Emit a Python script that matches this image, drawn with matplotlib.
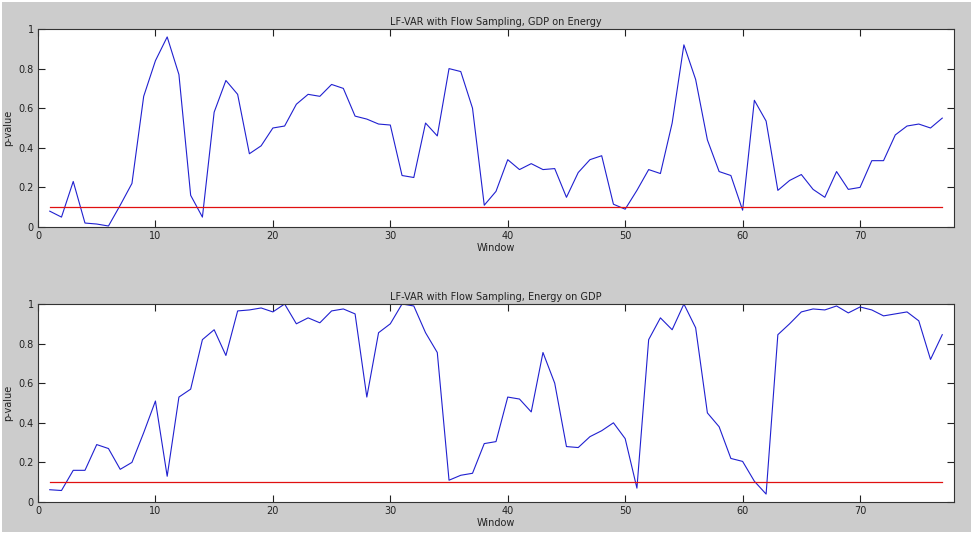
import matplotlib
matplotlib.use("Agg")
import matplotlib.pyplot as plt
from matplotlib.patches import Rectangle

# p-values per window
windows = list(range(1, 78))

gdp_on_energy = [
    0.08, 0.05, 0.23, 0.02, 0.015, 0.005, 0.11, 0.22, 0.66, 0.84,
    0.96, 0.77, 0.16, 0.05, 0.58, 0.74, 0.67, 0.37, 0.41, 0.50,
    0.51, 0.62, 0.67, 0.66, 0.72, 0.70, 0.56, 0.545, 0.52, 0.515,
    0.26, 0.25, 0.525, 0.46, 0.80, 0.785, 0.60, 0.11, 0.18, 0.34,
    0.29, 0.32, 0.29, 0.295, 0.15, 0.275, 0.34, 0.36, 0.115, 0.09,
    0.185, 0.29, 0.27, 0.525, 0.92, 0.745, 0.44, 0.28, 0.26, 0.085,
    0.64, 0.535, 0.185, 0.235, 0.265, 0.19, 0.15, 0.28, 0.19, 0.20,
    0.335, 0.335, 0.465, 0.51, 0.52, 0.50, 0.55,
]

energy_on_gdp = [
    0.062, 0.058, 0.16, 0.16, 0.29, 0.27, 0.165, 0.20, 0.35, 0.51,
    0.13, 0.53, 0.57, 0.82, 0.87, 0.74, 0.965, 0.97, 0.98, 0.96,
    1.0, 0.90, 0.93, 0.905, 0.965, 0.975, 0.95, 0.53, 0.855, 0.90,
    1.0, 0.99, 0.855, 0.755, 0.11, 0.135, 0.145, 0.295, 0.305, 0.53,
    0.52, 0.455, 0.755, 0.60, 0.28, 0.275, 0.33, 0.36, 0.40, 0.32,
    0.07, 0.82, 0.93, 0.87, 1.0, 0.88, 0.45, 0.38, 0.22, 0.205,
    0.105, 0.04, 0.845, 0.90, 0.96, 0.975, 0.97, 0.99, 0.955, 0.985,
    0.97, 0.94, 0.95, 0.96, 0.915, 0.72, 0.845,
]

threshold = 0.1
titles = ["LF-VAR with Flow Sampling, GDP on Energy",
          "LF-VAR with Flow Sampling, Energy on GDP"]

fig = plt.figure(figsize=(9.74, 5.37), dpi=100, facecolor="white")
# grey MATLAB-like figure background
fig.patches.append(Rectangle((2 / 974, 5 / 537), 969 / 974, 530 / 537,
                             transform=fig.transFigure, facecolor="#cccccc",
                             edgecolor="none", zorder=-1))

positions = [
    [38 / 974, 1 - 227 / 537, 916 / 974, 198 / 537],
    [38 / 974, 1 - 502 / 537, 916 / 974, 198 / 537],
]

for pos, series, title in zip(positions, [gdp_on_energy, energy_on_gdp], titles):
    ax = fig.add_axes(pos)
    ax.set_facecolor("white")
    ax.plot(windows, series, color="#2020d0", linewidth=0.8)
    ax.plot([windows[0], windows[-1]], [threshold, threshold], color="#e01010", linewidth=0.9)
    ax.set_xlim(0, 78)
    ax.set_ylim(0, 1)
    ax.set_xticks(range(0, 80, 10))
    ax.set_yticks([0, 0.2, 0.4, 0.6, 0.8, 1])
    ax.set_yticklabels(["0", "0.2", "0.4", "0.6", "0.8", "1"])
    ax.tick_params(direction="in", top=True, right=True, length=5, width=0.8,
                   labelsize=7, colors="#222222", pad=3)
    for s in ax.spines.values():
        s.set_color("#333333")
        s.set_linewidth(0.8)
    ax.set_title(title, fontsize=7, pad=3, color="#222222")
    ax.set_xlabel("Window", fontsize=7, labelpad=1, color="#222222")
    ax.set_ylabel("p-value", fontsize=7, labelpad=4, color="#222222")

fig.savefig("out.png", dpi=100, facecolor=fig.get_facecolor())
